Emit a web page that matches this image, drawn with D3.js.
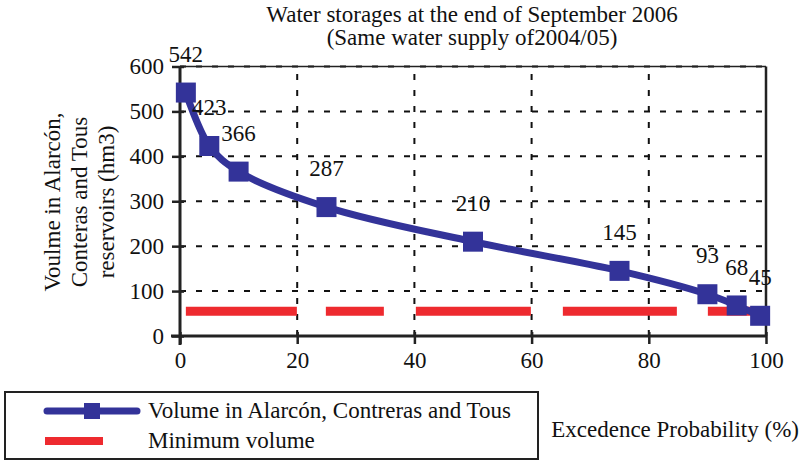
<!DOCTYPE html>
<html><head><meta charset="utf-8">
<script src="https://cdn.jsdelivr.net/npm/d3@7"></script>
<style>
body{margin:0;background:#fff;}
svg text{font-family:"Liberation Serif","Times New Roman",serif !important;fill:#111;}
</style></head>
<body><svg id="c" width="803" height="463"></svg>
<script>
const probability = [1, 5, 10, 25, 50, 75, 90, 95, 99];
const volume = [542, 423, 366, 287, 210, 145, 93, 68, 45];
const minimumVolume = 55;
const minimumRange = [1, 99];
const xTicks = [0, 20, 40, 60, 80, 100];
const yTicks = [0, 100, 200, 300, 400, 500, 600];
const titleLines = ["Water storages at the end of September 2006", "(Same water supply of2004/05)"];
const yLabelLines = ["Voulme in Alarcón,", "Conteras and Tous", "reservoirs (hm3)"];
const xLabel = "Excedence Probability (%)";
const legendLabels = ["Volume in Alarcón, Contreras and Tous", "Minimum volume"];

const blue = "#333399", red = "#ee2a2f";
const svg = d3.select("#c");
const x = d3.scaleLinear().domain([0, 100]).range([180, 766]);
const y = d3.scaleLinear().domain([0, 600]).range([336, 66.5]);
const fs = 23;

// gridlines
const g = svg.append("g");
g.selectAll(".hg").data(yTicks.filter(d => d > 0)).join("line")
  .attr("x1", x(0)).attr("x2", x(100)).attr("y1", d => y(d)).attr("y2", d => y(d))
  .attr("stroke", "#111").attr("stroke-width", 2).attr("stroke-dasharray", "6,10");
g.selectAll(".vg").data(xTicks.filter(d => d > 0 && d < 100)).join("line")
  .attr("y1", y(0)).attr("y2", y(600)).attr("x1", d => x(d)).attr("x2", d => x(d))
  .attr("stroke", "#111").attr("stroke-width", 2).attr("stroke-dasharray", "6,10");
// frame top & right
svg.append("line").attr("x1", x(0)).attr("x2", x(100)).attr("y1", y(600)).attr("y2", y(600)).attr("stroke", "#222").attr("stroke-width", 1.5);
svg.append("line").attr("x1", x(100)).attr("x2", x(100)).attr("y1", y(600)).attr("y2", y(0)).attr("stroke", "#222").attr("stroke-width", 2.5);

// axes
const yAxis = d3.axisLeft(y).tickValues(yTicks).tickSize(12);
const ya = svg.append("g").attr("transform", `translate(${x(0) + 4},0)`).call(yAxis);
ya.attr("font-family", null).attr("font-size", null);
ya.select(".domain").remove();
ya.selectAll(".tick line").attr("stroke", "#222").attr("stroke-width", 2.5);
ya.selectAll("text").attr("font-size", fs).attr("x", -(x(0) + 4 - 164)).attr("fill", "#111");
svg.append("line").attr("x1", x(0)).attr("x2", x(0)).attr("y1", y(600)).attr("y2", y(0) + 9).attr("stroke", "#222").attr("stroke-width", 3);

const xAxis = d3.axisBottom(x).tickValues(xTicks).tickSize(12);
const xa = svg.append("g").attr("transform", `translate(0,${y(0) - 4})`).call(xAxis);
xa.attr("font-family", null).attr("font-size", null);
xa.select(".domain").remove();
xa.selectAll(".tick line").attr("stroke", "#222").attr("stroke-width", 2.5);
xa.selectAll("text").attr("font-size", fs).attr("y", 36).attr("dy", 0).attr("fill", "#111");
svg.append("line").attr("x1", x(0) - 9).attr("x2", x(100)).attr("y1", y(0)).attr("y2", y(0)).attr("stroke", "#222").attr("stroke-width", 3);

// minimum volume
svg.append("line").attr("x1", x(minimumRange[0])).attr("x2", x(minimumRange[1]))
  .attr("y1", y(minimumVolume)).attr("y2", y(minimumVolume))
  .attr("stroke", red).attr("stroke-width", 9)
  .attr("stroke-dasharray", "111,29,58,32,115,32,114,31,200");

// series line
const pts = probability.map((p, i) => [p, volume[i]]);
const line = d3.line().x(d => x(d[0])).y(d => y(d[1])).curve(d3.curveCatmullRom.alpha(0.5));
svg.append("path").attr("d", line(pts)).attr("fill", "none").attr("stroke", blue).attr("stroke-width", 7).attr("stroke-linejoin", "round");
const ms = 20;
svg.selectAll(".mk").data(pts).join("rect")
  .attr("x", d => x(d[0]) - ms / 2).attr("y", d => y(d[1]) - ms / 2)
  .attr("width", ms).attr("height", ms).attr("fill", blue);
svg.selectAll(".lb").data(pts).join("text")
  .attr("x", d => x(d[0])).attr("y", d => y(d[1]) - 39).attr("dy", "0.35em")
  .attr("text-anchor", "middle").attr("font-size", fs).text(d => d[1]);

// title
svg.selectAll(".tt").data(titleLines).join("text")
  .attr("x", 472).attr("y", (d, i) => 22 + i * 23).attr("text-anchor", "middle").attr("font-size", fs).text(d => d);

// y label
svg.selectAll(".yl").data(yLabelLines).join("text")
  .attr("transform", (d, i) => `translate(${52 + i * 27},202) rotate(-90)`)
  .attr("text-anchor", "middle").attr("dy", "0.35em").attr("font-size", fs).text(d => d);

// x label
svg.append("text").attr("x", 799).attr("y", 437).attr("text-anchor", "end").attr("font-size", fs).text(xLabel);

// legend
svg.append("rect").attr("x", 5).attr("y", 392).attr("width", 533).attr("height", 67).attr("fill", "none").attr("stroke", "#222").attr("stroke-width", 2);
svg.append("line").attr("x1", 47).attr("x2", 137).attr("y1", 411).attr("y2", 411).attr("stroke", blue).attr("stroke-width", 7).attr("stroke-linecap", "round");
svg.append("rect").attr("x", 92 - 8).attr("y", 411 - 8).attr("width", 16).attr("height", 16).attr("fill", blue);
svg.append("line").attr("x1", 45).attr("x2", 103).attr("y1", 441).attr("y2", 441).attr("stroke", red).attr("stroke-width", 8);
svg.selectAll(".lg").data(legendLabels).join("text")
  .attr("x", 148).attr("y", (d, i) => 418 + i * 30).attr("font-size", fs).text(d => d);
</script></body></html>
